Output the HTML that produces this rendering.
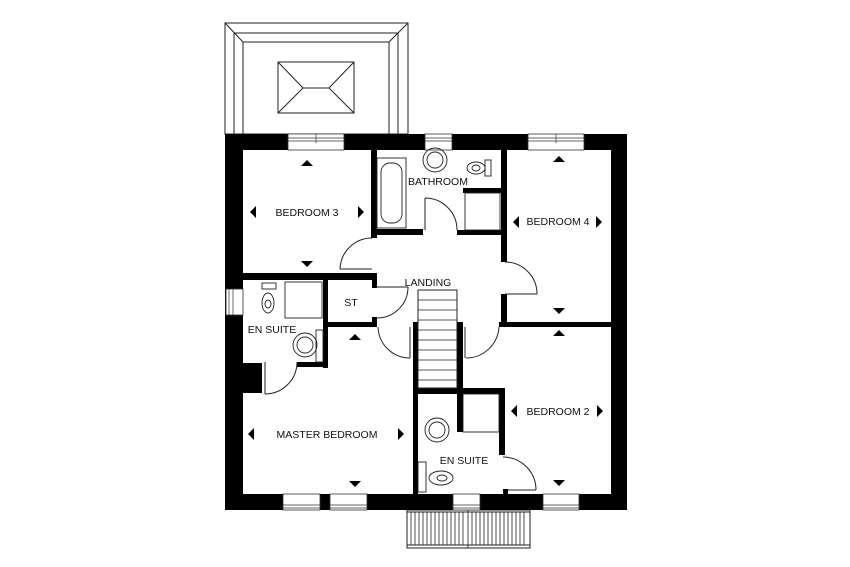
<!DOCTYPE html>
<html><head><meta charset="utf-8"><style>
html,body{margin:0;padding:0;background:#fff;width:850px;height:567px;overflow:hidden}
svg{display:block}
text{font-family:"Liberation Sans",sans-serif;font-size:10.5px;fill:#111;text-anchor:middle;dominant-baseline:middle}
</style></head><body>
<svg width="850" height="567" viewBox="0 0 850 567" xmlns="http://www.w3.org/2000/svg">
<g fill="none" stroke="#222" stroke-width="1">
<rect x="225" y="23" width="183" height="111"/>
<path d="M234 134V33H398V134M243 134V42H389V134M225 23L243 42M408 23L389 42"/>
<rect x="278" y="62" width="76" height="51"/>
<path d="M278 62L303 88H329L354 62M278 113L303 88M329 88L354 113"/>
<rect x="407" y="510" width="123" height="38"/>
<path d="M407 512H530M407 545H530"/>
</g>
<g fill="#000">
<rect x="225" y="134" width="402" height="16"/>
<rect x="225" y="134" width="18" height="376"/>
<rect x="611" y="134" width="16" height="376"/>
<rect x="225" y="494" width="402" height="16"/>
<rect x="243" y="363" width="19" height="30"/>
<rect x="371" y="150" width="6" height="88"/>
<rect x="243" y="273" width="134" height="7"/>
<rect x="372" y="280" width="5" height="8"/>
<rect x="372" y="317" width="5" height="10"/>
<rect x="327" y="322" width="50" height="5"/>
<rect x="323" y="280" width="5" height="88"/>
<rect x="297" y="362" width="31" height="5"/>
<rect x="377" y="229" width="46" height="6"/>
<rect x="457" y="230" width="50" height="5"/>
<rect x="463" y="188" width="38" height="5"/>
<rect x="501" y="150" width="6" height="112"/>
<rect x="501" y="294" width="6" height="33"/>
<rect x="499" y="322" width="112" height="5"/>
<rect x="413" y="322" width="5" height="172"/>
<rect x="457" y="322" width="6" height="66"/>
<rect x="413" y="388" width="92" height="6"/>
<rect x="457" y="388" width="6" height="44"/>
<rect x="499" y="388" width="6" height="67"/>
<rect x="503" y="489" width="5" height="5"/>
</g>
<g fill="#fff" stroke="#333" stroke-width="0.8">
<rect x="288" y="134" width="56" height="16"/><rect x="425" y="134" width="27" height="16"/><rect x="528" y="134" width="56" height="16"/>
<rect x="283" y="494" width="37" height="16"/><rect x="330" y="494" width="37" height="16"/><rect x="453" y="494" width="27" height="16"/><rect x="543" y="494" width="36" height="16"/>
<rect x="226" y="289" width="17" height="26"/>
</g>
<g stroke="#333" stroke-width="0.7" fill="none">
<path d="M288 138H344M288 141H344M316 134V143M425 138H452M425 141H452M528 138H584M528 141H584M556 134V143M283 505H320M283 508H320M330 505H367M330 508H367M453 505H480M453 508H480M543 505H579M543 508H579M229 289V315M233 289V315"/>
</g>
<g fill="none" stroke="#222" stroke-width="1">
<path d="M340 269H372M340 269A32 32 0 0 1 372 238"/>
<path d="M425 198V230M425 198A32 32 0 0 1 457 230"/>
<path d="M505 294H537M505 262A32 32 0 0 1 537 294"/>
<path d="M377 287H408M408 287A31 31 0 0 1 377 318"/>
<path d="M410 327V358M378 327A32 32 0 0 0 410 358"/>
<path d="M465 327V358M499 327A33 33 0 0 1 466 358"/>
<path d="M265 362V394M297 362A32 32 0 0 1 265 394"/>
<path d="M503 457A33 33 0 0 1 536 490M536 490H508"/>
<rect x="418" y="290" width="39" height="98"/>
</g>
<g fill="none" stroke="#222" stroke-width="0.9">
<rect x="377" y="158" width="29" height="70"/>
<rect x="381" y="163" width="21" height="60" rx="9"/>
<circle cx="435" cy="160" r="12"/><circle cx="435" cy="160" r="8"/>
<rect x="485" y="160" width="6" height="16"/><ellipse cx="476" cy="168" rx="9" ry="6"/><ellipse cx="476" cy="168" rx="4" ry="3"/>
<rect x="465" y="193" width="35" height="37"/>
<rect x="285" y="282" width="37" height="36"/>
<rect x="262" y="283" width="14" height="6"/><ellipse cx="268" cy="303" rx="6" ry="10"/><ellipse cx="268" cy="304" rx="3" ry="4"/>
<circle cx="305" cy="345" r="12"/><circle cx="305" cy="345" r="8"/><rect x="316" y="330" width="7" height="32"/>
<rect x="463" y="394" width="36" height="38"/>
<circle cx="437" cy="430" r="12"/><circle cx="437" cy="430" r="8"/>
<rect x="418" y="462" width="8" height="30"/><ellipse cx="441" cy="478" rx="12" ry="7"/><ellipse cx="442" cy="478" rx="5" ry="3"/>
</g>
<g fill="#000">
<path d="M301 166L307 160L313 166Z M301 261H313L307 267Z M250 212L256 206V218Z M364 212L358 206V218Z"/>
<path d="M553 162L559 156L565 162Z M553 308H565L559 314Z M513 222L519 216V228Z M602 222L596 216V228Z"/>
<path d="M349 340L355 334L361 340Z M349 481H361L355 487Z M248 434L254 428V440Z M404 434L398 428V440Z"/>
<path d="M553 336L559 330L565 336Z M553 480H565L559 486Z M511 411L517 405V417Z M603 411L597 405V417Z"/>
</g>
<text x="307" y="213">BEDROOM 3</text>
<text x="438" y="182">BATHROOM</text>
<text x="558" y="222">BEDROOM 4</text>
<text x="428" y="283">LANDING</text>
<text x="351" y="303">ST</text>
<text x="272" y="330">EN SUITE</text>
<text x="327" y="435">MASTER BEDROOM</text>
<text x="558" y="412">BEDROOM 2</text>
<text x="464" y="461">EN SUITE</text>
<g stroke="#222" stroke-width="0.8">
<path d="M418 300H457M418 310H457M418 320H457M418 330H457M418 340H457M418 350H457M418 360H457M418 370H457M418 380H457"/>
<path d="M411 512V545M415 512V545M419 512V545M423 512V545M427 512V545M431 512V545M435 512V545M439 512V545M443 512V545M447 512V545M451 512V545M455 512V545M459 512V545M463 512V545M468 510V548M472 512V545M476 512V545M480 512V545M484 512V545M488 512V545M492 512V545M496 512V545M500 512V545M504 512V545M508 512V545M512 512V545M516 512V545M520 512V545M524 512V545"/>
</g>
</svg>
</body></html>
